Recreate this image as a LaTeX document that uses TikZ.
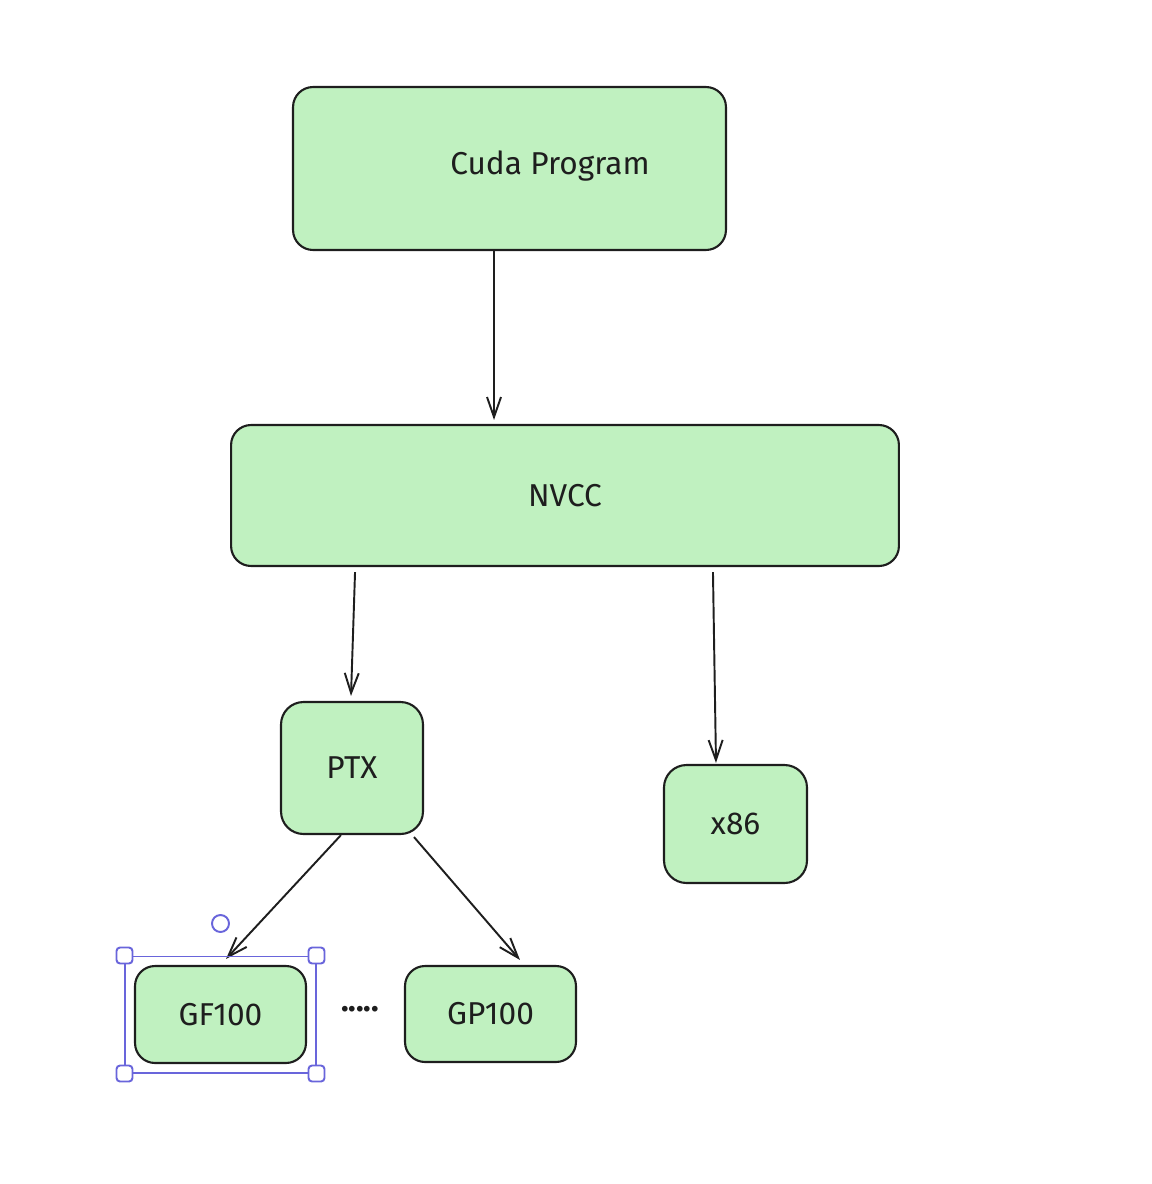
\documentclass[tikz,border=0pt]{standalone}
\usepackage{fontspec}
\setmainfont{Fira Sans}
\usepackage{xcolor}
\usetikzlibrary{
	arrows.meta,
	positioning,
	fit
}
\definecolor{boxfill}{HTML}{C0F1C0}
\definecolor{ink}{HTML}{1E1E1E}
\definecolor{selcol}{HTML}{6965DB}

\begin{document}
\begin{tikzpicture}[
		x=0.02cm,
		y=-0.02cm,
		>={Straight Barb[length=4mm,width=2.8mm]},
		box/.style={
			draw=ink,
			fill=boxfill,
			line width=1.2pt,
			rounded corners=0.4cm,
			inner sep=0pt,
			font=\fontsize{18}{22}\selectfont
		},
		link/.style={
			->,
			draw=ink,
			line width=1.1pt
		},
		selbox/.style={
			draw=selcol,
			line width=1.1pt,
			inner sep=0.17cm
		},
		handle/.style={
			draw=selcol,
			fill=white,
			line width=1.1pt,
			rounded corners=2pt,
			minimum size=0.32cm,
			inner sep=0pt
		}
		]
		
		\useasboundingbox (0,0) rectangle (1152,1184);
		
		% Cuda program
		\node[box, minimum width=8.66cm, minimum height=3.26cm] (cuda) at (509.5,168.5) {};
		\node[font=\fontsize{18}{22}\selectfont, text=ink] (cudatext) at (550,166) {Cuda Program};
		
		% NVCC
		\node[box, minimum width=13.36cm, minimum height=2.82cm, text=ink] (nvcc) at (565,495.5) {NVCC};
		
		% Targets
		\node[box, minimum width=2.84cm, minimum height=2.64cm, rounded corners=0.45cm, text=ink] (ptx) at (352,768) {PTX};
		\node[box, minimum width=2.86cm, minimum height=2.36cm, rounded corners=0.45cm, text=ink] (x86) at (735.5,824) {x86};
		
		% Architectures
		\node[box, minimum width=3.42cm, minimum height=1.94cm, text=ink] (gf100) at (220.5,1014.5) {GF100};
		\node[box, minimum width=3.42cm, minimum height=1.92cm, text=ink] (gp100) at (490.5,1014) {GP100};
		\node[font=\fontsize{18}{22}\selectfont\bfseries, text=ink] (dots) at (360,1009) {.....};
		
		% Connections
		\draw[link] ([xshift=-0.31cm]cuda.south) -- ([xshift=-1.42cm,yshift=0.08cm]nvcc.north);
		\draw[link] ([xshift=-4.2cm,yshift=-0.1cm]nvcc.south) -- ([xshift=-0.02cm,yshift=0.1cm]ptx.north);
		\draw[link] ([xshift=2.96cm,yshift=-0.1cm]nvcc.south) -- ([xshift=-0.39cm,yshift=0.02cm]x86.north);
		\draw[link] ([xshift=-0.22cm]ptx.south) -- ([xshift=0.11cm,yshift=0.12cm]gf100.north);
		\draw[link] ([xshift=1.24cm,yshift=-0.04cm]ptx.south) -- ([xshift=0.59cm,yshift=0.1cm]gp100.north);
		
		% Selection
		\node[selbox, fit=(gf100)] (sel) {};
		\foreach \c in {north west,north east,south west,south east}
		\node[handle] at (sel.\c) {};
		\node[circle, draw=selcol, line width=1.1pt, fill=white, minimum size=0.34cm, inner sep=0pt] (rot) at ([yshift=0.64cm]sel.north) {};
		
	\end{tikzpicture}
\end{document}
